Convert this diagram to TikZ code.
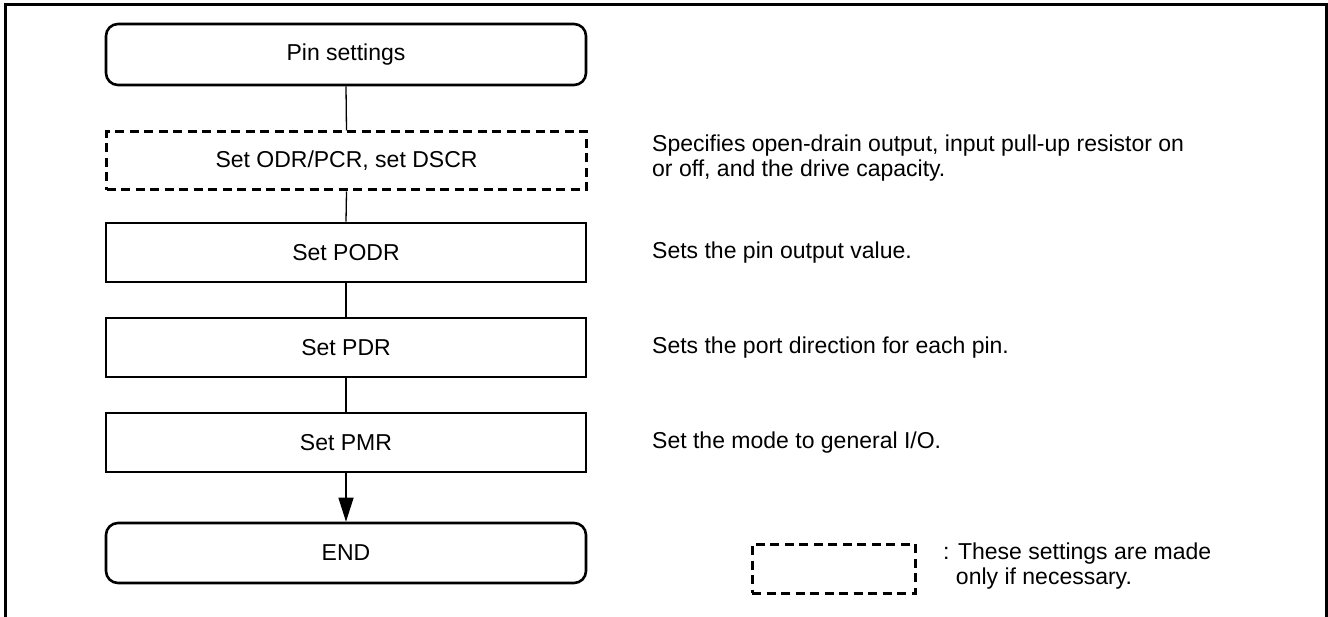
\documentclass[tikz,border=0pt]{standalone}
\usepackage{fontspec}
\setmainfont{Liberation Sans}
\usetikzlibrary{arrows.meta}
\begin{document}
\begin{tikzpicture}[x=1pt,y=-1pt,
  box/.style={draw, line width=2.6pt, minimum width=480pt, minimum height=59pt, inner sep=0pt, font=\fontsize{23}{27}\selectfont},
  term/.style={box, rounded corners=12pt},
  opt/.style={box, line width=3pt, dash pattern=on 9pt off 5.5pt},
  conn/.style={line width=1.3pt},
  note/.style={anchor=west, inner sep=0pt, align=left, font=\fontsize{23}{24.5}\selectfont},
  frame/.style={line width=3pt}
]
\useasboundingbox (0,0) rectangle (1328,617);
\draw[frame] (5,617) -- (5,5) -- (1326,5) -- (1326,617);

\node[term, minimum height=61pt] (start) at (346,54.5) {Pin settings};
\node[opt, minimum height=58pt] (odr) at (346.5,161) {Set ODR/PCR, set DSCR};
\node[box] (podr) at (346,252.5) {Set PODR};
\node[box] (pdr) at (346,347.5) {Set PDR};
\node[box] (pmr) at (346,442.5) {Set PMR};
\node[term, minimum height=60pt] (end) at (346,553) {END};

\draw[conn] (start.south) -- (odr.north);
\draw[conn] (odr.south) -- (podr.north);
\draw[conn] (podr.south) -- (pdr.north);
\draw[conn] (pdr.south) -- (pmr.north);
\draw[conn, -{Triangle[length=24pt,width=15pt]}] (pmr.south) -- (end.north);

\node[note] (n1) at (652,158) {Specifies open-drain output, input pull-up resistor on\\or off, and the drive capacity.};
\node[note] (n2) at (652,252.5) {Sets the pin output value.};
\node[note] (n3) at (652,347.5) {Sets the port direction for each pin.};
\node[note] (n4) at (652,442.5) {Set the mode to general I/O.};

\node[opt, minimum width=163pt, minimum height=49pt] (legend) at (833.5,568.5) {};
\node[note] (legtext) at (943,566) {: These settings are made\\\hphantom{:}\ only if necessary.};
\end{tikzpicture}
\end{document}
